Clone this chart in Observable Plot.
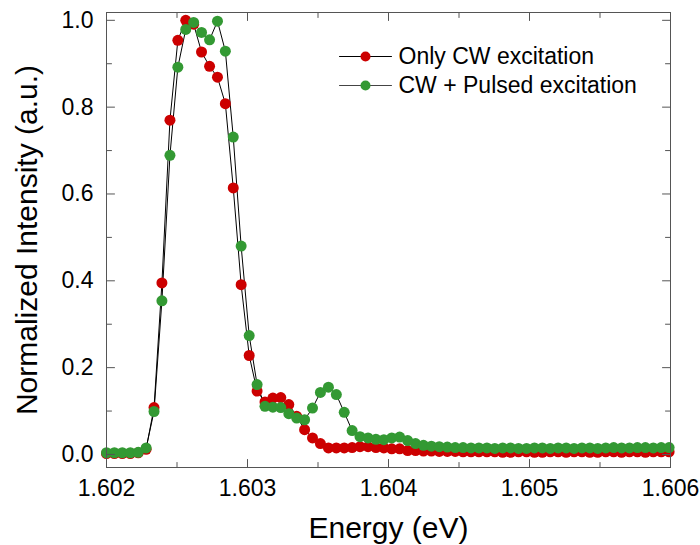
<!DOCTYPE html>
<html>
<head>
<meta charset="utf-8">
<script src="https://cdn.jsdelivr.net/npm/d3@7"></script>
<script src="https://cdn.jsdelivr.net/npm/@observablehq/plot@0.6"></script>
<style>
  html, body { margin: 0; padding: 0; background: #fff; }
</style>
</head>
<body>
<div id="chart"></div>
<script>
const energy = [
  1.602000, 1.602056, 1.602112, 1.602169, 1.602225, 1.602281, 1.602337, 1.602393,
  1.602450, 1.602506, 1.602562, 1.602618, 1.602674, 1.602731, 1.602787, 1.602843,
  1.602899, 1.602955, 1.603012, 1.603068, 1.603124, 1.603180, 1.603236, 1.603293,
  1.603349, 1.603405, 1.603461, 1.603517, 1.603574, 1.603630, 1.603686, 1.603742,
  1.603798, 1.603855, 1.603911, 1.603967, 1.604023, 1.604079, 1.604136, 1.604192,
  1.604248, 1.604304, 1.604360, 1.604417, 1.604473, 1.604529, 1.604585, 1.604641,
  1.604698, 1.604754, 1.604810, 1.604866, 1.604922, 1.604979, 1.605035, 1.605091,
  1.605147, 1.605203, 1.605260, 1.605316, 1.605372, 1.605428, 1.605484, 1.605541,
  1.605597, 1.605653, 1.605709, 1.605765, 1.605822, 1.605878, 1.605934, 1.605990
];
const onlyCW = [
  0.002, 0.002, 0.002, 0.002, 0.004, 0.012, 0.108, 0.395,
  0.770, 0.954, 1.000, 0.991, 0.927, 0.894, 0.869, 0.808,
  0.614, 0.391, 0.228, 0.146, 0.121, 0.130, 0.131, 0.115,
  0.088, 0.057, 0.038, 0.025, 0.015, 0.015, 0.015, 0.016,
  0.018, 0.018, 0.016, 0.015, 0.013, 0.013, 0.009, 0.009,
  0.008, 0.008, 0.007, 0.007, 0.007, 0.006, 0.006, 0.006,
  0.006, 0.006, 0.005, 0.005, 0.006, 0.006, 0.005, 0.005,
  0.006, 0.006, 0.005, 0.006, 0.006, 0.005, 0.005, 0.006,
  0.006, 0.005, 0.006, 0.006, 0.005, 0.006, 0.006, 0.006
];
const cwPulsed = [
  0.004, 0.004, 0.004, 0.004, 0.005, 0.015, 0.099, 0.354,
  0.689, 0.892, 0.979, 0.995, 0.972, 0.955, 0.998, 0.929,
  0.731, 0.480, 0.274, 0.161, 0.111, 0.109, 0.108, 0.094,
  0.084, 0.080, 0.107, 0.143, 0.155, 0.138, 0.097, 0.055,
  0.041, 0.038, 0.035, 0.034, 0.038, 0.040, 0.032, 0.025,
  0.021, 0.019, 0.018, 0.017, 0.016, 0.016, 0.015, 0.015,
  0.015, 0.014, 0.015, 0.015, 0.014, 0.014, 0.015, 0.015,
  0.014, 0.015, 0.015, 0.014, 0.015, 0.015, 0.014, 0.015,
  0.016, 0.015, 0.015, 0.016, 0.016, 0.015, 0.016, 0.016
];
const seriesNames = ["Only CW excitation", "CW + Pulsed excitation"];
const seriesColors = ["#cc0000", "#339933"];
const xTicks = [1.602, 1.603, 1.604, 1.605, 1.606];
const xMinorTicks = [1.6025, 1.6035, 1.6045, 1.6055];
const yTicks = [0.0, 0.2, 0.4, 0.6, 0.8, 1.0];
const yMinorTicks = [0.1, 0.3, 0.5, 0.7, 0.9];

const red = energy.map((e, i) => ({e, v: onlyCW[i]}));
const green = energy.map((e, i) => ({e, v: cwPulsed[i]}));

const lineShape = {draw(context, l) { context.moveTo(0, 0); context.lineTo(0, -l); }};
const axisColor = "#555";
const font = "'Liberation Sans', Arial, sans-serif";

// inward tick marks drawn as short vectors anchored on the frame edges
function xTickMarks(ticks, len) {
  return [
    Plot.vector(ticks, {x: d => d, frameAnchor: "bottom", length: len, rotate: 0, anchor: "start",
      shape: lineShape, stroke: axisColor, strokeWidth: 1}),
    Plot.vector(ticks, {x: d => d, frameAnchor: "top", length: len, rotate: 180, anchor: "start",
      shape: lineShape, stroke: axisColor, strokeWidth: 1})
  ];
}
function yTickMarks(ticks, len) {
  return [
    Plot.vector(ticks, {y: d => d, frameAnchor: "left", length: len, rotate: 90, anchor: "start",
      shape: lineShape, stroke: axisColor, strokeWidth: 1}),
    Plot.vector(ticks, {y: d => d, frameAnchor: "right", length: len, rotate: -90, anchor: "start",
      shape: lineShape, stroke: axisColor, strokeWidth: 1})
  ];
}

const legendMarks = seriesNames.flatMap((name, k) => {
  const dy = 44 + k * 29;
  return [
    Plot.vector([name], {frameAnchor: "top-left", dx: 259, dy, length: 52, rotate: 90, anchor: "middle",
      shape: lineShape, stroke: k === 0 ? "#000" : "#444", strokeWidth: 1}),
    Plot.dot([name], {frameAnchor: "top-left", dx: 259, dy, r: 5, fill: seriesColors[k], stroke: "none"}),
    Plot.text([name], {frameAnchor: "top-left", dx: 292, dy, text: d => d, textAnchor: "start",
      lineAnchor: "middle", fontSize: 23, fill: "#000"})
  ];
});

const chart = Plot.plot({
  width: 700,
  height: 545,
  marginLeft: 106,
  marginRight: 30,
  marginTop: 12,
  marginBottom: 78,
  style: {fontFamily: font, color: "#000", background: "#fff", overflow: "visible"},
  x: {domain: [1.602, 1.606]},
  y: {domain: [-0.03, 1.018]},
  marks: [
    Plot.line(red, {x: "e", y: "v", stroke: "#000", strokeWidth: 1}),
    Plot.line(green, {x: "e", y: "v", stroke: "#000", strokeWidth: 1}),
    Plot.dot(red, {x: "e", y: "v", r: 5.5, fill: seriesColors[0], stroke: "none"}),
    Plot.dot(green, {x: "e", y: "v", r: 5.5, fill: seriesColors[1], stroke: "none"}),
    Plot.frame({stroke: axisColor, strokeWidth: 1}),
    ...xTickMarks(xTicks, 8),
    ...xTickMarks(xMinorTicks, 5),
    ...yTickMarks(yTicks, 8),
    ...yTickMarks(yMinorTicks, 5),
    // tick labels
    Plot.axisX({anchor: "bottom", ticks: xTicks, tickSize: 0, tickPadding: 12, tickFormat: d3.format(".3f"),
      fontSize: 23, label: null, fill: "#000"}),
    Plot.axisY({anchor: "left", ticks: yTicks, tickSize: 0, tickPadding: 13, tickFormat: d3.format(".1f"),
      fontSize: 23, label: null, fill: "#000"}),
    // axis titles
    Plot.text(["Energy (eV)"], {frameAnchor: "bottom", dy: 70, text: d => d, fontSize: 30, fill: "#000"}),
    Plot.text(["Normalized Intensity (a.u.)"], {frameAnchor: "left", dx: -79, rotate: -90, text: d => d,
      textAnchor: "middle", lineAnchor: "middle", fontSize: 30, fill: "#000"}),
    ...legendMarks
  ]
});
document.getElementById("chart").appendChild(chart);
</script>
</body>
</html>
